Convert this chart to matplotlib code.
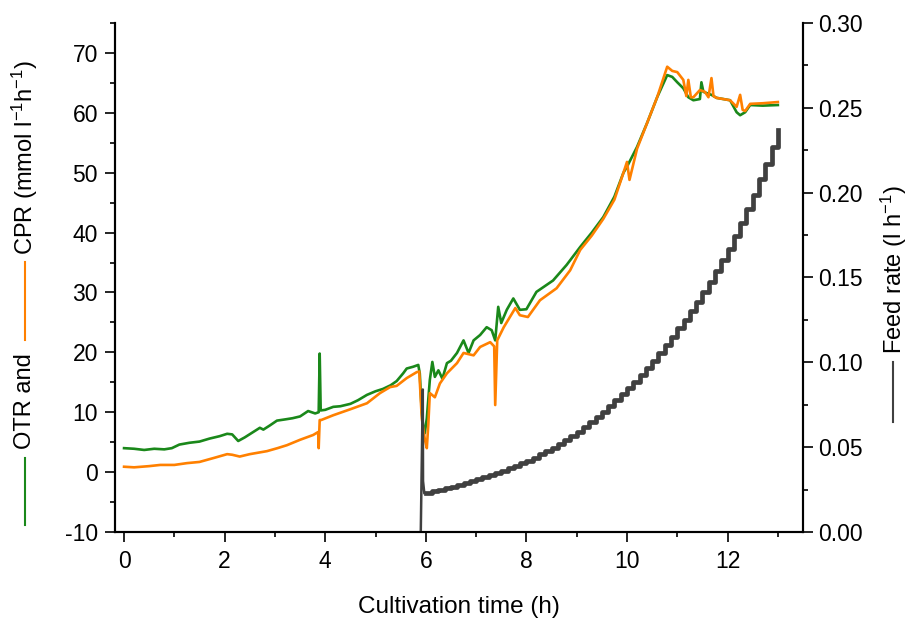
import numpy as np
import matplotlib
matplotlib.use("Agg")
import matplotlib.pyplot as plt
from matplotlib.lines import Line2D
from matplotlib.ticker import MultipleLocator, FormatStrFormatter

plt.rcParams['font.family'] = ['Liberation Sans', 'DejaVu Sans']
plt.rcParams['mathtext.fontset'] = 'custom'
plt.rcParams['mathtext.rm'] = 'Liberation Sans'
plt.rcParams['mathtext.it'] = 'Liberation Sans:italic'
plt.rcParams['axes.unicode_minus'] = False

# ---------------- data ----------------
otr_t = [0.0, 0.2, 0.4, 0.6, 0.8, 0.95, 1.1, 1.3, 1.5, 1.7, 1.9, 2.05, 2.15, 2.27, 2.4,
         2.55, 2.7, 2.77, 2.9, 3.04, 3.2, 3.35, 3.5, 3.66, 3.8, 3.87, 3.89, 3.91, 4.0,
         4.16, 4.3, 4.5, 4.65, 4.83, 5.0, 5.15, 5.3, 5.42, 5.55, 5.62, 5.75, 5.85, 5.88,
         5.92, 5.95, 5.98, 6.02, 6.08, 6.13, 6.18, 6.25, 6.33, 6.42, 6.5, 6.62, 6.75,
         6.85, 6.95, 7.08, 7.21, 7.31, 7.38, 7.44, 7.5, 7.61, 7.74, 7.87, 8.0, 8.2, 8.53,
         8.8, 9.07, 9.3, 9.53, 9.75, 9.93, 10.0, 10.2, 10.4, 10.6, 10.8, 10.9, 11.0,
         11.12, 11.22, 11.32, 11.45, 11.48, 11.52, 11.68, 11.78, 12.05, 12.18, 12.25,
         12.35, 12.45, 12.7, 13.0]
otr_v = [4.0, 3.9, 3.7, 3.9, 3.8, 4.0, 4.6, 4.9, 5.1, 5.6, 6.0, 6.4, 6.3, 5.2, 5.8,
         6.6, 7.4, 7.1, 7.8, 8.6, 8.8, 9.0, 9.3, 10.2, 9.8, 10.0, 19.8, 10.3, 10.4,
         10.9, 11.0, 11.4, 12.0, 12.9, 13.5, 13.9, 14.5, 15.2, 16.5, 17.3, 17.6, 17.9, 16.5,
         10.0, 7.5, 6.5, 9.0, 15.4, 18.4, 15.9, 17.0, 15.6, 18.2, 18.6, 19.9, 22.0,
         19.9, 22.0, 22.9, 24.2, 23.7, 22.0, 27.6, 24.9, 27.1, 29.0, 27.1, 27.2, 30.1, 32.0,
         34.6, 37.6, 40.0, 42.6, 46.0, 50.0, 51.0, 54.3, 58.3, 62.6, 66.3, 66.0, 65.1,
         64.1, 62.6, 62.1, 62.3, 65.1, 63.5, 63.0, 62.5, 62.1, 60.1, 59.6,
         60.1, 61.3, 61.2, 61.3]

cpr_t = [0.0, 0.2, 0.5, 0.72, 1.0, 1.25, 1.5, 1.8, 2.05, 2.15, 2.3, 2.5, 2.84, 3.05, 3.24,
         3.5, 3.76, 3.86, 3.87, 3.89, 3.92, 4.16, 4.5, 4.83, 5.09, 5.29, 5.42, 5.62, 5.82,
         5.87, 5.92, 5.98, 6.02, 6.05, 6.08, 6.18, 6.28, 6.42, 6.62, 6.75, 6.95, 7.08,
         7.28, 7.36, 7.38, 7.42, 7.55, 7.78, 7.87, 8.03, 8.27, 8.6, 8.87, 9.07, 9.3, 9.53,
         9.75, 9.93, 10.0, 10.05, 10.2, 10.4, 10.6, 10.8, 10.9, 11.0, 11.12, 11.18, 11.22,
         11.27, 11.32, 11.45, 11.55, 11.62, 11.68, 11.72, 11.78, 12.05, 12.18, 12.25, 12.3,
         12.35, 12.45, 12.7, 13.0]
cpr_v = [0.9, 0.8, 1.0, 1.2, 1.2, 1.5, 1.7, 2.4, 3.0, 2.9, 2.6, 3.0, 3.5, 4.0, 4.5,
         5.4, 6.2, 6.7, 4.0, 8.7, 8.7, 9.5, 10.5, 11.5, 13.2, 14.2, 14.4, 15.7, 16.7,
         16.8, 9.0, 5.5, 4.0, 8.0, 13.2, 12.5, 14.8, 16.5, 18.2, 19.9, 19.5, 20.9,
         21.7, 21.0, 11.2, 22.0, 24.2, 27.4, 26.2, 25.9, 28.7, 30.7, 33.7, 37.1, 39.5, 42.3,
         45.5, 50.0, 51.8, 48.8, 54.0, 58.3, 62.6, 67.7, 67.0, 66.8, 65.5, 62.8, 65.5,
         62.6, 62.6, 63.8, 63.5, 62.6, 65.8, 62.8, 62.5, 62.1, 61.0, 63.0, 60.5,
         60.3, 61.5, 61.6, 61.8]

# feed start-up spike
spike_t = [5.90, 5.94, 5.945, 5.97]
spike_v = [0.0, 0.084, 0.030, 0.023]
# feed staircase, one value per 0.125 h step from 6.0 h to 13.0 h
feed_t0 = 6.0
feed_dt = 0.125
feed_v = [0.0230, 0.0239, 0.0248, 0.0257, 0.0267, 0.0277, 0.0288, 0.0299,
          0.0310, 0.0322, 0.0334, 0.0347, 0.0361, 0.0375, 0.0389, 0.0404,
          0.0420, 0.0438, 0.0457, 0.0477, 0.0498, 0.0520, 0.0542, 0.0566,
          0.0590, 0.0618, 0.0646, 0.0677, 0.0708, 0.0741, 0.0776, 0.0812,
          0.0850, 0.0887, 0.0926, 0.0967, 0.1010, 0.1054, 0.1101, 0.1149,
          0.1200, 0.1251, 0.1303, 0.1358, 0.1416, 0.1475, 0.1538, 0.1602,
          0.1670, 0.1745, 0.1823, 0.1904, 0.1989, 0.2078, 0.2171, 0.2268,
          0.2370]
feed_t = [feed_t0 + i * feed_dt for i in range(len(feed_v))]

GREEN = '#1a881a'
ORANGE = '#ff8000'
GRAY = '#404040'

W, H = 909, 618
fig = plt.figure(figsize=(W / 100, H / 100), dpi=100)
ax = fig.add_axes([115 / W, 1 - 532 / H, (803 - 115) / W, (532 - 23) / H])
ax2 = ax.twinx()

ax.plot(otr_t, otr_v, color=GREEN, lw=1.9, zorder=2)
ax.plot(cpr_t, cpr_v, color=ORANGE, lw=1.9, zorder=3)
ax2.plot(spike_t, spike_v, color=GRAY, lw=1.8)
ax2.plot(feed_t, feed_v, color=GRAY, lw=3.4, drawstyle='steps-post')

ax.set_xlim(-0.18, 13.5)
ax.set_ylim(-10, 75)
ax2.set_ylim(0, 0.30)

ax.xaxis.set_major_locator(MultipleLocator(2))
ax.xaxis.set_minor_locator(MultipleLocator(1))
ax.yaxis.set_major_locator(MultipleLocator(10))
ax.yaxis.set_minor_locator(MultipleLocator(5))
ax2.yaxis.set_major_locator(MultipleLocator(0.05))
ax2.yaxis.set_minor_locator(MultipleLocator(0.025))
ax2.yaxis.set_major_formatter(FormatStrFormatter('%.2f'))

for a in (ax, ax2):
    a.spines['top'].set_visible(False)
    for s in a.spines.values():
        s.set_linewidth(1.5)
    a.tick_params(which='major', direction='out', length=7.2, width=1.2, labelsize=16.5)
    a.tick_params(which='minor', direction='out', length=3.6, width=1.2)
ax.tick_params(axis='x', pad=6)
ax.tick_params(axis='y', pad=5)
ax2.tick_params(axis='y', pad=4)

ax.set_xlabel('Cultivation time (h)', fontsize=17.5, labelpad=16)

# left composite label
fx = lambda px: px / W
fy = lambda py: 1 - py / H
fig.add_artist(Line2D([fx(25), fx(25)], [fy(525), fy(458)], color=GREEN, lw=1.5))
fig.text(fx(25), fy(449), 'OTR and', rotation=90, ha='center', va='bottom', fontsize=17)
fig.add_artist(Line2D([fx(25), fx(25)], [fy(340), fy(262)], color=ORANGE, lw=1.5))
fig.text(fx(25), fy(255), r'CPR (mmol l$^{\mathregular{-1}}$h$^{\mathregular{-1}}$)',
         rotation=90, ha='center', va='bottom', fontsize=17)

# right composite label
fig.add_artist(Line2D([fx(893), fx(893)], [fy(422), fy(362)], color=GRAY, lw=1.5))
fig.text(fx(894), fy(354), r'Feed rate (l h$^{\mathregular{-1}}$)',
         rotation=90, ha='center', va='bottom', fontsize=17)

fig.savefig('out.png', dpi=100)
